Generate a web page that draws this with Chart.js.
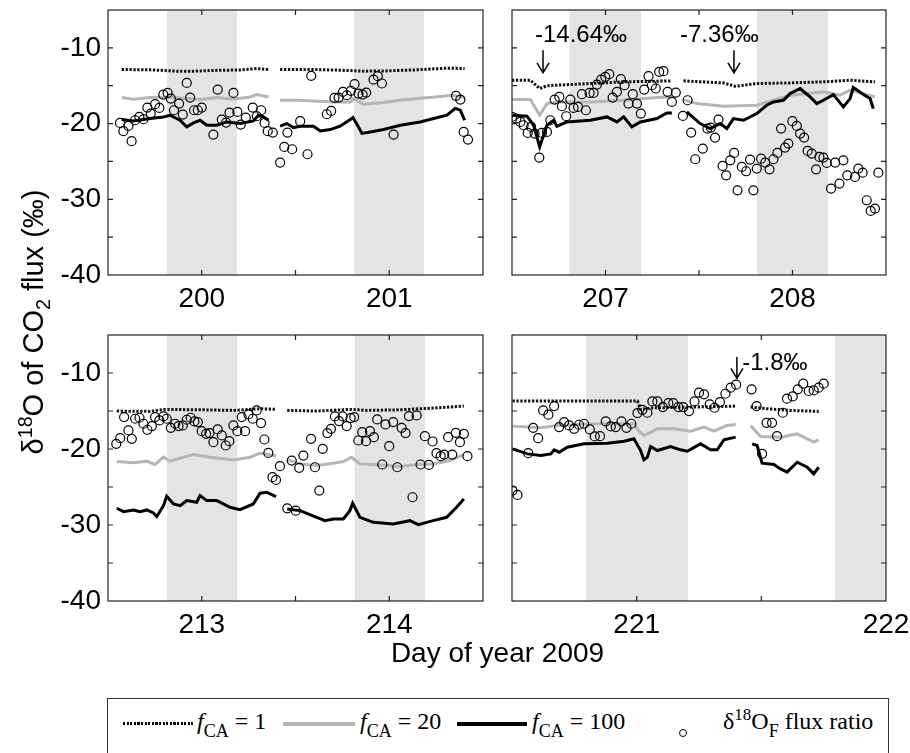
<!DOCTYPE html>
<html>
<head>
<meta charset="utf-8">
<script src="https://cdn.jsdelivr.net/npm/chart.js@4.4.1/dist/chart.umd.min.js"></script>
<style>
  body { margin: 0; width: 910px; height: 753px; position: relative; overflow: hidden; background: #fff; font-family: "Liberation Sans", Arial, sans-serif; }
  .panel { position: absolute; }
  #ytitle { position: absolute; left: -167px; top: 305px; width: 400px; height: 34px; line-height: 34px; text-align: center; font-size: 29px; transform: rotate(-90deg); white-space: nowrap; }
  #xtitle { position: absolute; left: 0; top: 637px; width: 995px; line-height: 32px; text-align: center; font-size: 28px; }
  sup, sub { font-size: 0.68em; line-height: 0; }
  #legend { position: absolute; left: 107px; top: 698px; width: 780px; height: 90px; border: 1.5px solid #333; }
  .key { position: absolute; top: 23px; height: 3.5px; }
  .lab { position: absolute; top: 7px; line-height: 30px; font-family: "Liberation Serif", "Times New Roman", serif; font-size: 24px; white-space: nowrap; }
  .lab sub { font-size: 18px; vertical-align: -8px; }
  .lab sup { font-size: 17px; vertical-align: 9px; }
</style>
</head>
<body>
<div class="panel" style="left:0;top:0"><canvas id="pA" width="490" height="320"></canvas></div>
<div class="panel" style="left:495px;top:0"><canvas id="pB" width="415" height="320"></canvas></div>
<div class="panel" style="left:0;top:325px"><canvas id="pC" width="490" height="320"></canvas></div>
<div class="panel" style="left:495px;top:325px"><canvas id="pD" width="415" height="320"></canvas></div>

<div id="ytitle">δ<sup>18</sup>O of CO<sub>2</sub> flux (‰)</div>
<div id="xtitle">Day of year 2009</div>

<div id="legend">
  <div class="key" style="left:15px;width:70px;height:3px;background:repeating-linear-gradient(90deg,#000 0 2.2px,transparent 2.2px 3.6px)"></div>
  <div class="lab" style="left:89px"><i>f</i><sub>CA</sub> = 1</div>
  <div class="key" style="left:175px;width:72px;background:#b5b5b5"></div>
  <div class="lab" style="left:252px"><i>f</i><sub>CA</sub> = 20</div>
  <div class="key" style="left:349px;width:70px;background:#000"></div>
  <div class="lab" style="left:424px"><i>f</i><sub>CA</sub> = 100</div>
  <div style="position:absolute;left:571px;top:30px;width:6px;height:6px;border:1.3px solid #000;border-radius:50%"></div>
  <div class="lab" style="left:615px">δ<sup>18</sup>O<sub>F</sub> flux ratio</div>
</div>

<script>
// y axis (same for all panels)
const yTickVals = [-40, -35, -30, -25, -20, -15, -10, -5];
const yLabels = [-40, -30, -20, -10];

// x axis per panel: range, tick positions (integer ticks get a day label)
const rangeA = [199.5, 201.5], ticksA = [200, 200.5, 201];
const rangeB = [206.5, 208.5], ticksB = [207, 207.5, 208];
const rangeC = [212.5, 214.5], ticksC = [213, 213.5, 214];
const rangeD = [220.5, 222], ticksD = [221, 221.5, 222];

// shaded (night) intervals
const nightA = [[199.815, 200.188], [200.812, 201.185]];
const nightB = [[206.807, 207.19], [207.81, 208.19]];
const nightC = [[212.815, 213.19], [213.815, 214.19]];
const nightD = [[220.797, 221.206], [221.796, 222.2]];

// modelled d18O of CO2 flux, fCA = 1 / 20 / 100 (null = gap)
const f1A = [[199.573,-12.86],[199.724,-12.9],[199.867,-13.08],[199.956,-13.08],[200.08,-12.97],[200.205,-12.92],[200.294,-12.73],[200.356,-12.86],null,
  [200.418,-12.86],[200.596,-12.86],[200.738,-12.95],[200.863,-13.08],[200.97,-13.05],[201.148,-12.9],[201.308,-12.68],[201.402,-12.73]];
const f20A = [[199.573,-16.56],[199.635,-16.78],[199.724,-16.56],[199.813,-16.48],[199.92,-16.7],[199.991,-16.83],[200.08,-16.56],[200.169,-16.78],[200.258,-16.48],[200.294,-16.17],[200.356,-16.48],null,
  [200.418,-16.92],[200.525,-16.92],[200.703,-17.14],[200.792,-17.14],[200.81,-16.7],[200.863,-17.44],[200.97,-17.22],[201.059,-16.92],[201.183,-16.61],[201.343,-16.26],[201.402,-16.56]];
const f100A = [[199.573,-19.47],[199.635,-19.65],[199.724,-19.34],[199.795,-19.12],[199.831,-18.9],[199.884,-19.56],[199.92,-20.44],[199.956,-19.91],[199.991,-19.56],[200.027,-20.22],[200.08,-20.22],[200.133,-19.78],[200.205,-20.0],[200.276,-19.65],[200.302,-18.9],[200.329,-19.12],[200.356,-19.56],null,
  [200.418,-20.35],[200.454,-20.0],[200.489,-20.53],[200.525,-20.35],[200.596,-20.35],[200.632,-20.97],[200.685,-20.79],[200.738,-20.35],[200.792,-19.47],[200.806,-19.2],[200.836,-20.44],[200.854,-21.3],[200.899,-21.1],[200.97,-20.79],[201.059,-20.22],[201.165,-19.78],[201.237,-19.34],[201.308,-18.9],[201.352,-18.0],[201.379,-18.22],[201.402,-19.56]];

const f1B = [[206.5,-14.27],[206.598,-14.27],[206.648,-15.37],[206.687,-15.0],[206.74,-14.93],[206.919,-14.71],[207.097,-14.49],[207.275,-14.4],[207.355,-14.36],null,
  [207.417,-14.36],[207.631,-14.63],[207.693,-15.07],[207.809,-14.71],[207.987,-14.63],[208.165,-14.49],[208.308,-14.27],[208.441,-14.49]];
const f20B = [[206.5,-16.83],[206.598,-16.83],[206.648,-18.9],[206.687,-17.36],[206.74,-17.14],[206.919,-17.14],[207.097,-16.92],[207.275,-16.56],[207.355,-16.48],null,
  [207.417,-16.83],[207.488,-17.36],[207.631,-17.71],[207.809,-17.58],[207.898,-16.92],[207.987,-16.26],[208.165,-15.81],[208.254,-16.26],[208.308,-15.59],[208.441,-16.48]];
const f100B = [[206.5,-18.9],[206.58,-19.03],[206.616,-20.22],[206.648,-23.08],[206.687,-20.22],[206.723,-19.56],[206.74,-20.35],[206.794,-19.78],[206.919,-19.56],[207.008,-19.12],[207.061,-19.78],[207.097,-19.12],[207.141,-20.44],[207.186,-19.78],[207.275,-19.34],[207.328,-18.59],[207.355,-18.59],null,
  [207.435,-18.46],[207.506,-20.0],[207.56,-20.66],[207.613,-20.0],[207.649,-20.66],[207.684,-19.34],[207.738,-19.56],[207.809,-18.68],[207.862,-17.58],[207.898,-17.14],[207.951,-16.92],[207.987,-16.04],[208.041,-15.37],[208.094,-16.48],[208.13,-17.36],[208.165,-16.92],[208.219,-16.17],[208.272,-17.8],[208.308,-16.7],[208.325,-15.24],[208.379,-16.17],[208.415,-16.7],[208.432,-18.02]];

const f1C = [[212.547,-15.01],[212.725,-15.05],[212.796,-14.79],[212.991,-14.84],[213.169,-14.92],[213.311,-14.7],[213.396,-14.79],null,
  [213.456,-14.92],[213.613,-15.01],[213.79,-14.79],[213.879,-14.92],[214.057,-14.84],[214.234,-14.62],[214.398,-14.35]];
const f20C = [[212.547,-21.65],[212.636,-21.82],[212.707,-21.6],[212.751,-22.04],[212.796,-21.08],[212.831,-21.6],[212.902,-21.08],[212.956,-20.73],[213.044,-21.08],[213.169,-21.43],[213.258,-21.08],[213.311,-20.55],[213.396,-20.9],null,
  [213.456,-21.38],[213.524,-21.96],[213.613,-22.18],[213.702,-21.87],[213.755,-21.65],[213.799,-21.08],[213.844,-21.96],[213.968,-22.09],[214.057,-22.31],[214.146,-22.04],[214.234,-21.96],[214.323,-21.52],[214.398,-20.73]];
const f100C = [[212.547,-27.8],[212.583,-28.24],[212.636,-28.02],[212.671,-28.24],[212.707,-28.02],[212.742,-28.42],[212.76,-28.9],[212.796,-27.45],[212.813,-26.22],[212.849,-27.23],[212.885,-27.45],[212.92,-26.79],[212.973,-27.01],[212.991,-26.13],[213.027,-26.79],[213.08,-26.79],[213.151,-27.67],[213.204,-27.98],[213.275,-27.23],[213.311,-25.82],[213.346,-25.69],[213.396,-26.26],null,
  [213.456,-27.89],[213.524,-28.11],[213.613,-28.99],[213.657,-29.43],[213.702,-29.21],[213.755,-29.21],[213.79,-28.11],[213.805,-27.14],[213.844,-28.99],[213.915,-29.65],[214.021,-29.87],[214.11,-29.43],[214.155,-29.96],[214.234,-29.43],[214.306,-28.99],[214.359,-27.67],[214.398,-26.57]];

const f1D = [[220.502,-13.69],[220.749,-13.69],[221.003,-13.69],[221.016,-14.8],[221.056,-14.6],[221.216,-14.48],[221.35,-14.4],[221.397,-14.35],null,
  [221.457,-14.48],[221.523,-14.7],[221.617,-14.92],[221.73,-15.05]];
const f20D = [[220.502,-16.99],[220.615,-17.21],[220.682,-16.9],[220.816,-16.68],[220.989,-16.68],[221.009,-17.65],[221.029,-18.22],[221.083,-17.34],[221.15,-17.34],[221.216,-17.65],[221.27,-17.12],[221.31,-17.65],[221.363,-16.9],[221.397,-16.77],null,
  [221.457,-16.9],[221.497,-18.35],[221.577,-18.44],[221.644,-18.0],[221.71,-19.1],[221.73,-18.79]];
const f100D = [[220.502,-19.98],[220.562,-20.64],[220.615,-20.86],[220.656,-20.64],[220.669,-20.11],[220.689,-20.42],[220.722,-19.76],[220.789,-19.32],[220.883,-19.23],[220.949,-18.97],[220.989,-18.66],[221.016,-20.2],[221.029,-21.43],[221.043,-21.08],[221.056,-19.67],[221.083,-20.2],[221.136,-19.67],[221.176,-20.11],[221.203,-20.29],[221.256,-19.32],[221.296,-20.11],[221.323,-20.11],[221.35,-18.79],[221.397,-18.44],null,
  [221.463,-19.32],[221.483,-19.54],[221.503,-21.87],[221.55,-22.04],[221.577,-22.62],[221.603,-23.05],[221.644,-21.74],[221.684,-22.4],[221.71,-23.27],[221.73,-22.4]];

// measured d18O_F flux ratio (circles)
const obsA = [[199.564,-19.91],[199.582,-21.01],[199.609,-20.31],[199.626,-22.33],[199.644,-19.56],[199.667,-19.12],[199.689,-19.43],[199.71,-17.89],[199.728,-18.68],[199.751,-17.44],[199.774,-17.93],[199.795,-16.17],[199.818,-15.95],[199.835,-16.7],[199.852,-18.24],[199.879,-17.36],[199.899,-18.81],[199.92,-14.63],[199.938,-16.56],[199.959,-18.24],[199.979,-18.24],[200.0,-17.89],[200.062,-21.45],[200.085,-15.51],[200.107,-19.47],[200.13,-19.87],[200.148,-18.55],[200.169,-15.95],[200.19,-18.46],[200.208,-20.13],[200.235,-19.21],[200.272,-17.89],[200.294,-19.03],[200.317,-18.24],[200.335,-19.91],[200.352,-21.01],[200.379,-21.19],
  [200.418,-25.15],[200.44,-23.08],[200.457,-21.19],[200.482,-23.39],[200.525,-19.69],[200.564,-24.05],[200.584,-13.7],[200.667,-18.77],[200.69,-18.33],[200.708,-16.61],[200.73,-16.56],[200.753,-15.81],[200.774,-16.26],[200.795,-15.68],[200.815,-14.8],[200.836,-16.04],[200.858,-16.17],[200.877,-15.9],[200.916,-14.19],[200.939,-13.74],[200.961,-14.71],[201.023,-21.45],[201.356,-16.34],[201.379,-16.83],[201.397,-21.1],[201.42,-22.11]];
const obsB = [[206.5,-19.12],[206.523,-19.34],[206.545,-19.78],[206.562,-20.22],[206.584,-21.23],[206.602,-20.44],[206.621,-21.32],[206.646,-24.49],[206.66,-21.23],[206.687,-21.1],[206.705,-19.56],[206.728,-16.83],[206.753,-16.48],[206.767,-17.71],[206.79,-19.03],[206.812,-16.83],[206.829,-17.93],[206.853,-17.8],[206.874,-16.12],[206.895,-18.24],[206.915,-15.95],[206.936,-15.95],[206.954,-14.85],[206.977,-14.19],[206.999,-13.83],[207.02,-13.48],[207.038,-16.56],[207.061,-15.81],[207.082,-14.14],[207.102,-14.93],[207.123,-17.36],[207.146,-16.12],[207.168,-17.36],[207.189,-18.68],[207.207,-15.51],[207.23,-13.74],[207.248,-14.93],[207.269,-15.37],[207.287,-13.17],[207.31,-13.08],[207.332,-15.81],[207.355,-17.14],[207.376,-15.9],
  [207.414,-18.99],[207.439,-16.92],[207.458,-21.19],[207.48,-24.71],[207.52,-23.3],[207.545,-20.66],[207.563,-20.53],[207.586,-21.85],[207.604,-19.47],[207.626,-25.59],[207.645,-26.83],[207.667,-24.85],[207.688,-23.88],[207.706,-28.81],[207.729,-25.73],[207.752,-26.3],[207.773,-24.76],[207.791,-28.81],[207.809,-25.95],[207.832,-24.63],[207.854,-25.15],[207.877,-26.04],[207.898,-24.71],[207.919,-23.88],[207.939,-20.66],[207.96,-23.17],[207.978,-22.64],[207.999,-19.69],[208.023,-20.31],[208.041,-21.32],[208.062,-21.85],[208.081,-23.61],[208.103,-23.96],[208.126,-26.04],[208.144,-24.41],[208.165,-24.49],[208.183,-25.2],[208.206,-28.59],[208.228,-25.15],[208.251,-27.93],[208.272,-24.85],[208.293,-26.83],[208.334,-27.05],[208.352,-25.95],[208.375,-26.48],[208.397,-30.13],[208.418,-31.54],[208.441,-31.23],[208.459,-26.48]];
const obsC = [[212.544,-19.32],[212.565,-18.57],[212.586,-15.8],[212.609,-17.56],[212.627,-18.66],[212.645,-16.02],[212.668,-15.89],[212.689,-16.68],[212.71,-17.47],[212.734,-16.99],[212.751,-15.8],[212.774,-16.24],[212.796,-15.71],[212.813,-16.02],[212.835,-17.21],[212.858,-16.68],[212.876,-16.99],[212.899,-16.9],[212.92,-16.15],[212.941,-15.89],[212.961,-16.37],[212.979,-16.46],[213.0,-17.65],[213.023,-18.0],[213.041,-17.91],[213.062,-19.1],[213.085,-17.43],[213.107,-18.22],[213.128,-19.54],[213.147,-18.97],[213.169,-16.9],[213.19,-17.65],[213.213,-15.8],[213.231,-17.65],[213.249,-15.45],[213.272,-16.02],[213.293,-14.92],[213.316,-16.59],[213.334,-18.75],[213.355,-20.51],[213.377,-23.71],[213.396,-24.07],[213.417,-22.26],
  [213.456,-27.8],[213.48,-21.52],[213.501,-28.11],[213.52,-22.48],[213.542,-20.86],[213.583,-18.66],[213.604,-22.4],[213.627,-25.47],[213.645,-19.98],[213.67,-17.91],[213.689,-17.34],[213.71,-15.71],[213.732,-16.33],[213.751,-15.71],[213.773,-16.99],[213.794,-15.93],[213.813,-15.8],[213.835,-18.88],[213.856,-17.78],[213.876,-18.97],[213.897,-17.65],[213.918,-18.44],[213.936,-16.11],[213.963,-22.04],[213.98,-16.77],[214.0,-19.63],[214.021,-16.46],[214.043,-22.4],[214.066,-17.21],[214.087,-17.91],[214.105,-15.67],[214.124,-26.35],[214.146,-15.58],[214.167,-22.04],[214.19,-18.31],[214.211,-22.09],[214.231,-19.01],[214.252,-20.55],[214.274,-20.95],[214.293,-20.73],[214.314,-18.44],[214.336,-20.73],[214.355,-17.87],[214.377,-19.1],[214.398,-18.0],[214.417,-20.95]];
const obsD = [[220.502,-25.47],[220.522,-26.04],[220.565,-20.55],[220.585,-17.21],[220.605,-18.57],[220.625,-14.92],[220.646,-15.49],[220.669,-14.35],[220.689,-17.12],[220.709,-16.46],[220.729,-16.9],[220.749,-17.34],[220.769,-16.81],[220.789,-16.68],[220.812,-17.43],[220.832,-18.35],[220.853,-18.31],[220.876,-16.37],[220.896,-17.03],[220.916,-17.12],[220.939,-16.37],[220.959,-17.21],[220.979,-16.68],[221.003,-15.27],[221.023,-14.84],[221.043,-15.23],[221.063,-13.74],[221.083,-13.74],[221.105,-14.48],[221.127,-13.96],[221.147,-13.96],[221.167,-14.48],[221.187,-14.48],[221.21,-15.01],[221.232,-13.74],[221.25,-12.59],[221.27,-12.81],[221.293,-14.13],[221.312,-14.57],[221.334,-13.82],[221.356,-12.73],[221.377,-11.93],[221.399,-11.54],
  [221.461,-12.15],[221.481,-14.35],[221.503,-20.64],[221.521,-16.55],[221.543,-16.55],[221.563,-18.31],[221.586,-15.23],[221.603,-13.38],[221.626,-13.08],[221.646,-12.15],[221.668,-11.41],[221.69,-12.37],[221.71,-12.29],[221.73,-11.93],[221.75,-11.41]];

// arrows with labels
const notesB = [
  { text: '-14.64‰', tx: 206.623, ty: -8.3, ax: 206.666, y0: -10.3, y1: -13.3 },
  { text: '-7.36‰', tx: 207.398, ty: -8.3, ax: 207.687, y0: -10.3, y1: -13.3 }
];
const notesD = [
  { text: '-1.8‰', tx: 221.423, ty: -8.7, ax: 221.402, y0: -7.9, y1: -10.7 }
];

const FONT = '"Liberation Sans", Arial, sans-serif';

function toPts(arr) {
  const out = [];
  arr.forEach(function (p, i) {
    if (p) out.push({ x: p[0], y: p[1] });
    else out.push({ x: arr[i - 1][0], y: null });  // break the line
  });
  return out;
}

// box, inward ticks, night shading, arrows
const panelPlugin = {
  id: 'panelBox',
  beforeDatasetsDraw(chart, args, opts) {
    const ctx = chart.ctx, a = chart.chartArea, x = chart.scales.x;
    ctx.save();
    ctx.beginPath();
    ctx.rect(a.left, a.top, a.right - a.left, a.bottom - a.top);
    ctx.clip();
    ctx.fillStyle = '#e4e4e4';
    opts.nights.forEach(function (n) {
      const x0 = x.getPixelForValue(n[0]), x1 = x.getPixelForValue(n[1]);
      ctx.fillRect(x0, a.top, x1 - x0, a.bottom - a.top);
    });
    ctx.restore();
  },
  afterDraw(chart, args, opts) {
    const ctx = chart.ctx, a = chart.chartArea, x = chart.scales.x, y = chart.scales.y;
    ctx.save();
    ctx.strokeStyle = '#222';
    ctx.lineWidth = 1.2;
    ctx.strokeRect(a.left, a.top, a.right - a.left, a.bottom - a.top);
    ctx.beginPath();
    x.ticks.forEach(function (t) {
      if (t.value <= x.min || t.value >= x.max) return;
      const px = x.getPixelForValue(t.value);
      ctx.moveTo(px, a.bottom); ctx.lineTo(px, a.bottom - 5);
      ctx.moveTo(px, a.top); ctx.lineTo(px, a.top + 5);
    });
    y.ticks.forEach(function (t) {
      if (t.value <= y.min || t.value >= y.max) return;
      const py = y.getPixelForValue(t.value);
      ctx.moveTo(a.left, py); ctx.lineTo(a.left + 5, py);
      ctx.moveTo(a.right, py); ctx.lineTo(a.right - 5, py);
    });
    ctx.stroke();

    // annotations
    ctx.fillStyle = '#000';
    ctx.strokeStyle = '#000';
    ctx.lineWidth = 1.5;
    ctx.font = '24px ' + FONT;
    ctx.textBaseline = 'middle';
    ctx.textAlign = 'left';
    (opts.notes || []).forEach(function (n) {
      ctx.fillText(n.text, x.getPixelForValue(n.tx), y.getPixelForValue(n.ty));
      const ax = x.getPixelForValue(n.ax), top = y.getPixelForValue(n.y0), tip = y.getPixelForValue(n.y1);
      ctx.beginPath();
      ctx.moveTo(ax, top); ctx.lineTo(ax, tip);
      ctx.moveTo(ax - 6, tip - 10); ctx.lineTo(ax, tip); ctx.lineTo(ax + 6, tip - 10);
      ctx.stroke();
    });
    ctx.restore();
  }
};

function makePanel(id, p) {
  return new Chart(document.getElementById(id), {
    type: 'line',
    data: {
      datasets: [
        { label: 'flux ratio', data: toPts(p.obs), showLine: false, pointRadius: 4.5, pointBorderWidth: 1.2,
          pointBorderColor: '#000', pointBackgroundColor: 'rgba(0,0,0,0)' },
        { label: 'fCA = 100', data: toPts(p.f100), borderColor: '#000', borderWidth: 3, pointRadius: 0 },
        { label: 'fCA = 20', data: toPts(p.f20), borderColor: '#b5b5b5', borderWidth: 3, pointRadius: 0 },
        { label: 'fCA = 1', data: toPts(p.f1), borderColor: '#111', borderWidth: 3, borderDash: [2.3, 1.6], pointRadius: 0 }
      ]
    },
    options: {
      responsive: false,
      animation: false,
      spanGaps: false,
      layout: { padding: { left: 0, right: p.padRight, top: 10, bottom: 0 } },
      plugins: {
        legend: { display: false },
        tooltip: { enabled: false },
        panelBox: { nights: p.nights, notes: p.notes }
      },
      scales: {
        x: {
          type: 'linear', min: p.range[0], max: p.range[1],
          afterBuildTicks: function (s) { s.ticks = p.ticks.map(function (v) { return { value: v }; }); },
          afterFit: function (s) { s.height = p.xh; s.paddingLeft = 0; s.paddingRight = 0; },
          grid: { display: false, drawTicks: false },
          border: { display: false },
          ticks: {
            autoSkip: false, maxRotation: 0, padding: 7, color: '#000',
            font: { size: 28, family: FONT },
            callback: function (v) { return Number.isInteger(v) ? String(v) : ''; }
          }
        },
        y: {
          min: -40, max: -5,
          afterBuildTicks: function (s) { s.ticks = yTickVals.map(function (v) { return { value: v }; }); },
          afterFit: function (s) { s.width = p.yw; s.paddingTop = 0; s.paddingBottom = 0; },
          grid: { display: false, drawTicks: false },
          border: { display: false },
          ticks: {
            display: p.showY, padding: 7, color: '#000',
            font: { size: 28, family: FONT },
            callback: function (v) { return yLabels.indexOf(v) >= 0 ? String(v) : ''; }
          }
        }
      }
    },
    plugins: [panelPlugin]
  });
}

makePanel('pA', { range: rangeA, ticks: ticksA, nights: nightA, f1: f1A, f20: f20A, f100: f100A, obs: obsA,
  showY: true, yw: 108, padRight: 7, xh: 45 });
makePanel('pB', { range: rangeB, ticks: ticksB, nights: nightB, f1: f1B, f20: f20B, f100: f100B, obs: obsB, notes: notesB,
  showY: false, yw: 17, padRight: 24, xh: 45 });
makePanel('pC', { range: rangeC, ticks: ticksC, nights: nightC, f1: f1C, f20: f20C, f100: f100C, obs: obsC,
  showY: true, yw: 108, padRight: 7, xh: 44 });
makePanel('pD', { range: rangeD, ticks: ticksD, nights: nightD, f1: f1D, f20: f20D, f100: f100D, obs: obsD, notes: notesD,
  showY: false, yw: 17, padRight: 24, xh: 44 });
</script>
</body>
</html>
